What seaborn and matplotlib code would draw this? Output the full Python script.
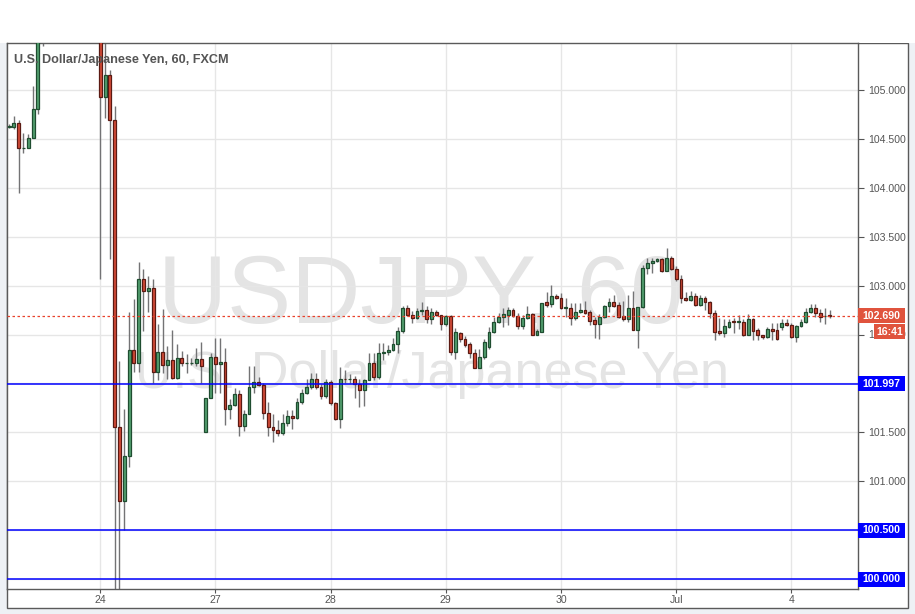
import matplotlib
matplotlib.use("Agg")
import matplotlib.pyplot as plt
import matplotlib.transforms as mtransforms
from matplotlib.patches import Rectangle
import numpy as np
import pandas as pd
import seaborn as sns

# ---------------- data ----------------
opens = [104.62, 104.625, 104.66, 104.41, 104.41, 104.51, 104.81, 105.60, 105.80, 106.00,
         106.10, 106.20, 106.30, 106.40, 106.50, 106.70, 106.60, 106.30, 106.00, 105.90,
         104.93, 105.15, 104.69, 101.55, 100.80, 101.26, 102.34, 102.21, 103.07, 102.94,
         102.98, 102.12, 102.32, 102.19, 102.24, 102.06, 102.26, 102.21, 102.21, 102.21,
         102.25, 101.50, 101.85, 102.27, 102.20, 102.22, 101.74, 101.78, 101.89, 101.56,
         101.69, 101.96, 102.01, 101.98, 101.70, 101.55, 101.52, 101.49, 101.59, 101.67,
         101.65, 101.81, 101.90, 101.96, 102.05, 101.96, 101.87, 102.01, 101.80, 101.64,
         102.05, 102.04, 102.04, 101.99, 101.93, 102.03, 102.21, 102.07, 102.31, 102.32,
         102.34, 102.40, 102.54, 102.77, 102.70, 102.67, 102.74, 102.75, 102.66, 102.73,
         102.70, 102.61, 102.69, 102.32, 102.52, 102.45, 102.40, 102.31, 102.16, 102.27,
         102.37, 102.53, 102.63, 102.68, 102.70, 102.75, 102.69, 102.59, 102.67, 102.71,
         102.49, 102.53, 102.83, 102.81, 102.89, 102.87, 102.77, 102.77, 102.67, 102.73,
         102.75, 102.73, 102.65, 102.61, 102.68, 102.79, 102.83, 102.80, 102.69, 102.66,
         102.77, 102.55, 102.78, 103.18, 103.23, 103.25, 103.27, 103.15, 103.28, 103.17,
         103.07, 102.87, 102.85, 102.89, 102.80, 102.87, 102.83, 102.72, 102.54, 102.52,
         102.58, 102.64, 102.63, 102.63, 102.49, 102.66, 102.55, 102.49, 102.47, 102.56,
         102.55, 102.58, 102.62, 102.60, 102.47, 102.59, 102.63, 102.73, 102.77, 102.72,
         102.69, 102.70]
highs = [104.65, 104.73, 104.69, 104.56, 104.55, 105.04, 105.70, 105.90, 106.10, 106.20,
         106.30, 106.40, 106.50, 106.60, 106.80, 106.80, 106.70, 106.40, 106.10, 106.00,
         105.60, 105.20, 104.84, 102.23, 101.74, 102.73, 102.86, 103.24, 103.17, 103.10,
         103.07, 102.61, 102.76, 102.38, 102.55, 102.40, 102.33, 102.30, 102.26, 102.36,
         102.42, 101.85, 102.31, 102.46, 102.46, 102.36, 101.84, 101.95, 101.93, 101.73,
         102.18, 102.18, 102.07, 102.00, 101.81, 101.69, 101.63, 101.69, 101.73, 101.73,
         101.85, 101.94, 102.04, 102.11, 102.11, 101.99, 102.05, 102.03, 101.81, 102.17,
         102.14, 102.10, 102.08, 102.05, 102.05, 102.31, 102.31, 102.41, 102.41, 102.39,
         102.46, 102.58, 102.79, 102.80, 102.74, 102.77, 102.83, 102.79, 102.77, 102.75,
         102.70, 102.70, 102.70, 102.57, 102.53, 102.48, 102.42, 102.35, 102.35, 102.45,
         102.58, 102.68, 102.72, 102.77, 102.78, 102.77, 102.72, 102.70, 102.79, 102.72,
         102.56, 102.82, 102.93, 103.01, 102.91, 102.92, 102.87, 102.82, 102.82, 102.82,
         102.84, 102.75, 102.68, 102.71, 102.80, 102.87, 102.90, 102.83, 102.84, 102.90,
         102.94, 102.78, 103.21, 103.28, 103.28, 103.28, 103.28, 103.38, 103.30, 103.20,
         103.11, 102.93, 102.94, 102.92, 102.90, 102.89, 102.84, 102.75, 102.67, 102.66,
         102.66, 102.67, 102.70, 102.66, 102.71, 102.67, 102.57, 102.50, 102.58, 102.62,
         102.62, 102.66, 102.66, 102.62, 102.60, 102.66, 102.77, 102.81, 102.81, 102.76,
         102.77, 102.75]
lows = [104.61, 104.60, 103.95, 104.36, 104.41, 104.51, 104.75, 105.45, 105.70, 105.90,
        106.00, 106.10, 106.20, 106.30, 106.40, 106.50, 106.20, 105.80, 105.60, 103.07,
        104.71, 103.27, 99.00, 99.50, 100.50, 101.15, 102.12, 102.12, 102.54, 102.73,
        102.00, 102.03, 102.11, 102.05, 102.05, 102.05, 102.18, 102.11, 102.19, 102.18,
        102.00, 101.50, 101.85, 101.90, 101.90, 101.57, 101.64, 101.77, 101.46, 101.51,
        101.69, 101.90, 101.97, 101.64, 101.46, 101.40, 101.46, 101.47, 101.56, 101.53,
        101.64, 101.79, 101.89, 101.94, 101.94, 101.84, 101.85, 101.78, 101.63, 101.54,
        102.00, 102.00, 101.85, 101.76, 101.77, 102.03, 102.03, 102.05, 102.24, 102.29,
        102.33, 102.31, 102.52, 102.69, 102.62, 102.66, 102.70, 102.62, 102.61, 102.69,
        102.55, 102.59, 102.29, 102.25, 102.42, 102.37, 102.26, 102.16, 102.16, 102.25,
        102.35, 102.52, 102.62, 102.58, 102.60, 102.68, 102.56, 102.56, 102.66, 102.49,
        102.49, 102.53, 102.78, 102.78, 102.86, 102.76, 102.68, 102.60, 102.65, 102.72,
        102.71, 102.60, 102.46, 102.45, 102.67, 102.73, 102.78, 102.67, 102.64, 102.63,
        102.55, 102.36, 102.77, 103.12, 103.13, 103.24, 103.14, 103.15, 103.16, 103.05,
        102.82, 102.84, 102.84, 102.79, 102.79, 102.75, 102.67, 102.44, 102.50, 102.47,
        102.57, 102.52, 102.56, 102.48, 102.49, 102.44, 102.44, 102.45, 102.46, 102.44,
        102.44, 102.55, 102.59, 102.46, 102.42, 102.58, 102.62, 102.72, 102.68, 102.63,
        102.61, 102.67]
closes = [104.63, 104.66, 104.41, 104.41, 104.51, 104.81, 105.60, 105.80, 106.00, 106.10,
          106.20, 106.30, 106.40, 106.50, 106.70, 106.60, 106.30, 106.00, 105.90, 104.93,
          105.15, 104.69, 101.55, 100.80, 101.26, 102.34, 102.21, 103.07, 102.94, 102.98,
          102.12, 102.32, 102.19, 102.24, 102.06, 102.26, 102.21, 102.21, 102.21, 102.25,
          102.18, 101.85, 102.27, 102.20, 102.22, 101.74, 101.78, 101.89, 101.56, 101.69,
          101.96, 102.01, 101.98, 101.70, 101.55, 101.52, 101.49, 101.59, 101.67, 101.65,
          101.81, 101.90, 101.96, 102.05, 101.96, 101.87, 102.01, 101.80, 101.64, 102.05,
          102.04, 102.04, 101.99, 101.93, 102.03, 102.21, 102.07, 102.31, 102.32, 102.34,
          102.40, 102.54, 102.77, 102.70, 102.67, 102.74, 102.75, 102.66, 102.73, 102.70,
          102.61, 102.69, 102.32, 102.53, 102.45, 102.39, 102.31, 102.16, 102.27, 102.42,
          102.53, 102.63, 102.68, 102.71, 102.75, 102.69, 102.59, 102.67, 102.71, 102.49,
          102.54, 102.82, 102.80, 102.89, 102.87, 102.77, 102.78, 102.67, 102.73, 102.75,
          102.72, 102.64, 102.61, 102.68, 102.79, 102.83, 102.79, 102.68, 102.66, 102.77,
          102.55, 102.78, 103.18, 103.23, 103.25, 103.27, 103.15, 103.28, 103.17, 103.07,
          102.87, 102.85, 102.89, 102.80, 102.87, 102.83, 102.72, 102.53, 102.52, 102.59,
          102.63, 102.63, 102.64, 102.49, 102.66, 102.54, 102.49, 102.47, 102.56, 102.54,
          102.45, 102.62, 102.60, 102.47, 102.59, 102.63, 102.73, 102.77, 102.72, 102.68,
          102.69, 102.69]

day_labels = ["24", "27", "28", "29", "30", "Jul", "4"]
day_bar_index = [19, 43, 67, 91, 115, 139, 163]
level_values = [101.997, 100.500, 100.000]
level_labels = ["101.997", "100.500", "100.000"]
last_price = 102.690
last_label = "102.690"
countdown = "16:41"
y_ticks = [100.0, 100.5, 101.0, 101.5, 102.0, 102.5, 103.0, 103.5, 104.0, 104.5, 105.0]
title = "U.S. Dollar/Japanese Yen, 60, FXCM"
watermark_main = "USDJPY, 60"
watermark_sub = "U.S. Dollar/Japanese Yen"

df = pd.DataFrame({"open": opens, "high": highs, "low": lows, "close": closes})
df["bar"] = np.arange(len(df))
df["up"] = df["close"] >= df["open"]

# ---------------- style ----------------
sns.set_theme(style="white")
plt.rcParams["font.family"] = ["Liberation Sans", "DejaVu Sans"]

W, H = 915, 614
fig = plt.figure(figsize=(W / 100, H / 100), dpi=100)
fig.patch.set_facecolor("#eef1f5")

# white chart panel with outer border
fig.add_artist(Rectangle((7 / W, (H - 608) / H), (908 - 7) / W, (608 - 43) / H,
                         transform=fig.transFigure, facecolor="white",
                         edgecolor="#5a5a5a", lw=1, zorder=0))
fig.add_artist(Rectangle((0, (H - 43) / H), 1, 43 / H, transform=fig.transFigure,
                         facecolor="white", edgecolor="none", zorder=0))

ax = fig.add_axes([7 / W, (H - 589) / H, (858 - 7) / W, (589 - 43) / H])
ax.set_facecolor("white")

UP_FILL, UP_EDGE = "#53a06f", "#1f4d30"
DN_FILL, DN_EDGE = "#d44c38", "#5b1a13"
WICK = "#737375"

# watermark
ax.text(0.486, 0.489, watermark_main, transform=ax.transAxes, ha="center", va="baseline",
        fontsize=69, color="#e4e4e4", zorder=0.5)
ax.text(0.499, 0.368, watermark_sub, transform=ax.transAxes, ha="center", va="baseline",
        fontsize=37.5, color="#e4e4e4", zorder=0.5)

# wicks
ax.vlines(df["bar"], df["low"], df["high"], color=WICK, lw=1, zorder=2)
# bodies
body_bottom = np.minimum(df["open"], df["close"])
body_h = (df["close"] - df["open"]).abs()
fills = np.where(df["up"], UP_FILL, DN_FILL)
edges = np.where(df["up"], UP_EDGE, DN_EDGE)
ax.bar(df["bar"], body_h, bottom=body_bottom, width=0.62, color=fills,
       edgecolor=edges, linewidth=0.9, zorder=3)

# level lines
for v in level_values:
    ax.axhline(v, color="#0000ff", lw=1.1, zorder=4)
ax.axhline(last_price, color="#e8412b", lw=0.9, ls=(0, (2, 2)), zorder=4)

# axes limits & ticks
px_per_yen = 97.8
ax.set_ylim(100 - (589 - 579) / px_per_yen, 100 + (579 - 43) / px_per_yen)
ax.set_xlim(-0.42, (858 - 9) / 4.8)
ax.yaxis.tick_right()
ax.set_yticks(y_ticks)
# tick labels hidden under the level boxes in the reference
covered = set(round(v * 2) / 2 for v in level_values)
ax.set_yticklabels(["" if t in covered else f"{t:.3f}" for t in y_ticks])
ax.set_xticks(day_bar_index)
ax.set_xticklabels(day_labels)
ax.tick_params(axis="y", length=4, width=0.8, color="#555555", labelsize=7.6,
               labelcolor="#555555", pad=3, right=True)
ax.tick_params(axis="x", length=3, width=0.8, color="#555555", labelsize=7.6,
               labelcolor="#555555", pad=1.5, bottom=True)
ax.grid(True, color="#e6e6e6", lw=1)
ax.set_axisbelow(True)
for sp in ax.spines.values():
    sp.set_visible(True)
    sp.set_color("#5a5a5a")
    sp.set_linewidth(1)

# title
ax.text(7 / 851, 1 - 17 / 546, title, transform=ax.transAxes, ha="left", va="center",
        fontsize=9.1, fontweight="bold", color="#555555", zorder=6)

# price-scale label boxes
lab_tr = mtransforms.blended_transform_factory(ax.transAxes, ax.transData)
AXW = 851.0
box_h = 15 / px_per_yen


def price_box(v, text, color, x0_px=0, x1_px=47, dy_px=0):
    yc = v - dy_px / px_per_yen
    ax.add_patch(Rectangle((1 + x0_px / AXW, yc - box_h / 2), (x1_px - x0_px) / AXW, box_h,
                           transform=lab_tr, facecolor=color, edgecolor="none",
                           clip_on=False, zorder=9))
    ax.text(1 + (x0_px + x1_px) / 2 / AXW, yc, text, transform=lab_tr, ha="center",
            va="center", fontsize=7.6, color="white", fontweight="bold",
            clip_on=False, zorder=10)


for v, s in zip(level_values, level_labels):
    price_box(v, s, "#0000ff")
price_box(last_price, last_label, "#e0533d")
price_box(last_price, countdown, "#e0533d", x0_px=16, x1_px=47, dy_px=16)

fig.savefig("out.png", dpi=100, facecolor=fig.get_facecolor())
